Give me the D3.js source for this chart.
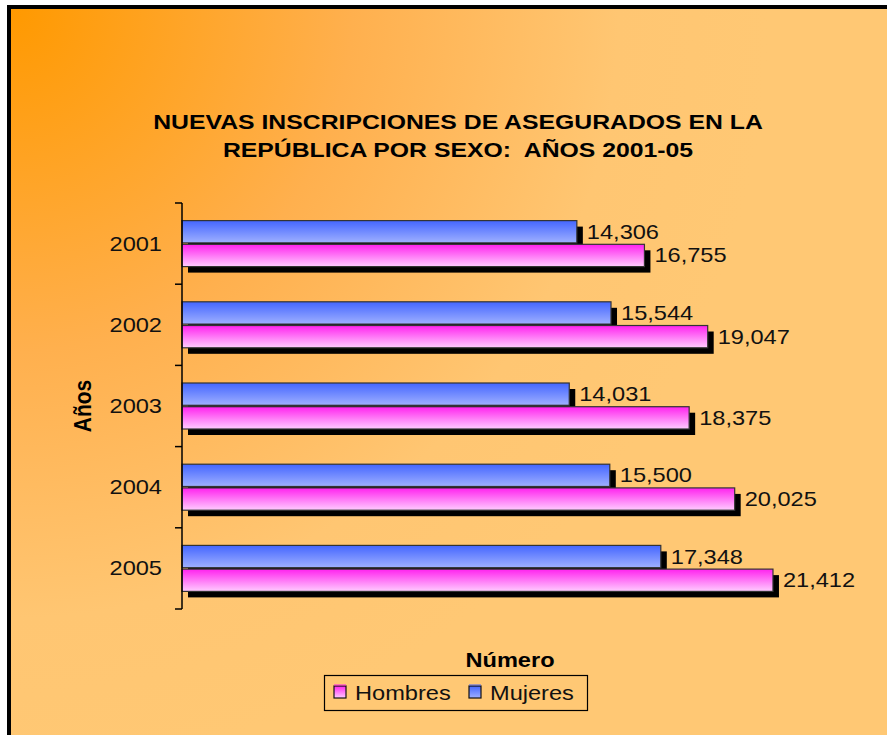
<!DOCTYPE html>
<html lang="en">
<head>
<meta charset="utf-8">
<title>Nuevas inscripciones de asegurados</title>
<script src="https://d3js.org/d3.v7.min.js"></script>
<style>
  body { margin: 0; background: #fff; }
  svg { display: block; font-family: "Liberation Sans", Arial, sans-serif; }
</style>
</head>
<body>
<div id="chart"></div>
<script>
// data
const years = ["2001", "2002", "2003", "2004", "2005"];
const mujeres = [14306, 15544, 14031, 15500, 17348];
const hombres = [16755, 19047, 18375, 20025, 21412];
const seriesNames = ["Hombres", "Mujeres"];
const titleLines = ["NUEVAS INSCRIPCIONES DE ASEGURADOS EN LA", "REPÚBLICA POR SEXO:  AÑOS 2001-05"];

const width = 887, height = 735;
const sx = 1.18; // the original text is a bit wide
const svg = d3.select("#chart").append("svg")
  .attr("width", width).attr("height", height);

const defs = svg.append("defs");

// background: orange corner fading to light orange
const bg = defs.append("radialGradient").attr("id", "bg")
  .attr("gradientUnits", "userSpaceOnUse")
  .attr("cx", 10).attr("cy", 10).attr("r", 760);
bg.append("stop").attr("offset", "0%").attr("stop-color", "#ff9900");
bg.append("stop").attr("offset", "45%").attr("stop-color", "#ffb04e");
bg.append("stop").attr("offset", "80%").attr("stop-color", "#ffc672");
bg.append("stop").attr("offset", "100%").attr("stop-color", "#ffc874");

function barGrad(id, top, bottom) {
  const g = defs.append("linearGradient").attr("id", id)
    .attr("x1", 0).attr("y1", 0).attr("x2", 0).attr("y2", 1);
  g.append("stop").attr("offset", "0%").attr("stop-color", top);
  g.append("stop").attr("offset", "100%").attr("stop-color", bottom);
}
barGrad("gBlue", "#4466ff", "#9fb0ff");
barGrad("gPink", "#ff22ee", "#ffccff");

svg.append("rect")
  .attr("x", 9).attr("y", 7).attr("width", width).attr("height", height)
  .attr("fill", "url(#bg)").attr("stroke", "#000").attr("stroke-width", 4);

// text placed at (x,y) and stretched sideways
function wideText(sel, x, y, str, size, anchor, bold) {
  return sel.append("text")
    .attr("transform", `translate(${x},${y}) scale(${sx},1)`)
    .attr("text-anchor", anchor || "start")
    .attr("font-size", size)
    .attr("font-weight", bold ? "bold" : null)
    .attr("fill", "#111")
    .text(str);
}

// title
titleLines.forEach((t, i) => {
  wideText(svg, 458, 129 + i * 28, t, 21, "middle", true).attr("fill", "#000")
    .style("white-space", "pre");
});

// scales
const x = d3.scaleLinear().domain([0, 25000]).range([182, 872]);
const y = d3.scaleBand().domain(years).range([203, 609]);
const inner = d3.scaleBand().domain(["m", "h"]).range([0, 46]).paddingInner(0.06);
const pad = (y.bandwidth() - 46) / 2;

const bars = [];
years.forEach((yr, i) => {
  bars.push({ yr, key: "m", v: mujeres[i] });
  bars.push({ yr, key: "h", v: hombres[i] });
});

const by = d => y(d.yr) + pad + inner(d.key);
const off = 6;

// shadows
svg.append("g").selectAll("rect").data(bars).join("rect")
  .attr("x", x(0) + off).attr("y", d => by(d) + off)
  .attr("width", d => x(d.v) - x(0)).attr("height", inner.bandwidth())
  .attr("fill", "#000");

// bars
svg.append("g").selectAll("rect").data(bars).join("rect")
  .attr("x", x(0)).attr("y", by)
  .attr("width", d => x(d.v) - x(0)).attr("height", inner.bandwidth())
  .attr("fill", d => d.key === "m" ? "url(#gBlue)" : "url(#gPink)")
  .attr("stroke", "#333").attr("stroke-width", 1.2);

// value labels
const vl = svg.append("g");
bars.forEach(d => {
  wideText(vl, x(d.v) + 10, by(d) + inner.bandwidth() / 2 + 7, d3.format(",")(d.v), 20);
});

// y axis
const yAxis = d3.axisLeft(y).tickSize(0).tickPadding(20).tickFormat("");
const ag = svg.append("g").attr("transform", `translate(${x(0)},0)`).call(yAxis);
ag.select(".domain").attr("stroke", "#000").attr("stroke-width", 1.5)
  .attr("d", `M0,${y.range()[0]}V${y.range()[1]}`);
ag.selectAll(".tick").each(function (d) {
  wideText(d3.select(this), -20, 7, d, 20, "end");
});
// tick marks between categories
ag.append("g").selectAll("line")
  .data(years.map(d => y(d)).concat([y.range()[1]]))
  .join("line")
  .attr("x1", -7).attr("x2", 0).attr("y1", d => d).attr("y2", d => d)
  .attr("stroke", "#000").attr("stroke-width", 1.5);

// axis titles
svg.append("text")
  .attr("transform", "translate(91,406) rotate(-90) scale(1.05,1.15)")
  .attr("text-anchor", "middle")
  .attr("font-size", 20).attr("font-weight", "bold")
  .text("Años");

wideText(svg, 510, 667, "Número", 20, "middle", true).attr("fill", "#000");

// legend
const lg = svg.append("g");
lg.append("rect").attr("x", 324.5).attr("y", 675.5).attr("width", 263).attr("height", 35)
  .attr("fill", "none").attr("stroke", "#000").attr("stroke-width", 1.2);
const legendItems = [
  { name: seriesNames[0], fill: "url(#gPink)", top: "#ff22ee", lx: 334 },
  { name: seriesNames[1], fill: "url(#gBlue)", top: "#4466ff", lx: 469 }
];
legendItems.forEach(d => {
  const g = lg.append("g").attr("transform", `translate(${d.lx},686)`);
  g.append("rect").attr("width", 12).attr("height", 12)
    .attr("fill", d.fill).attr("stroke", "#111").attr("stroke-width", 1.2);
  g.append("line").attr("x1", 0).attr("x2", 12).attr("y1", -1).attr("y2", -1)
    .attr("stroke", d.top).attr("stroke-width", 1);
  wideText(g, 21, 14, d.name, 20);
});
</script>
</body>
</html>
